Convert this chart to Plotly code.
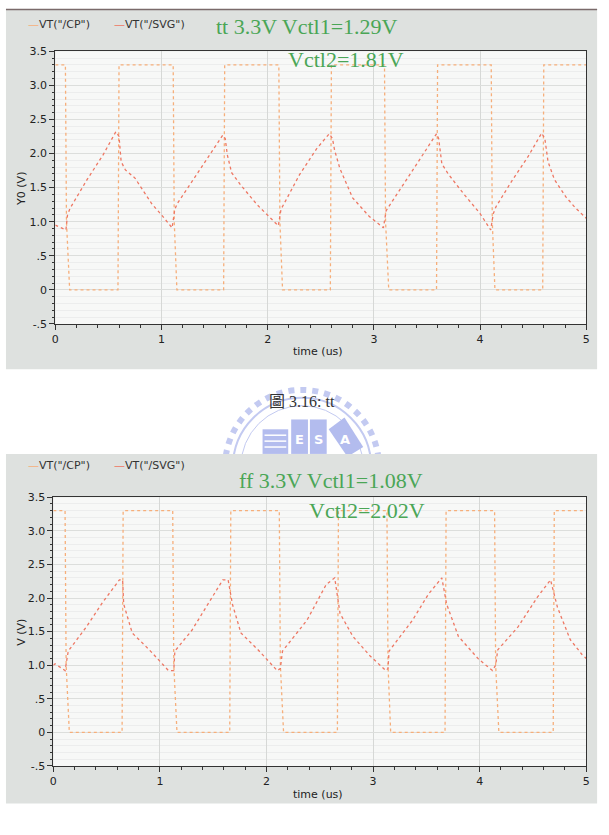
import plotly.graph_objects as go

W, H = 609, 835

# ---------------- data ----------------
# top panel: tt corner
tt_cp_t = [0, 0.095, 0.105, 0.135, 0.59, 0.60, 1.11, 1.12, 1.145, 1.585, 1.595, 2.105, 2.115, 2.14,
           2.59, 2.60, 3.10, 3.11, 3.14, 3.59, 3.60, 4.105, 4.115, 4.14, 4.59, 4.60, 5.0]
tt_cp_v = [3.3, 3.3, 1.0, 0, 0, 3.3, 3.3, 1.0, 0, 0, 3.3, 3.3, 1.0, 0,
           0, 3.3, 3.3, 1.0, 0, 0, 3.3, 3.3, 1.0, 0, 0, 3.3, 3.3]
tt_svg_t = [0.00, 0.05, 0.10, 0.115, 0.14, 0.30, 0.45, 0.57, 0.60, 0.62, 0.66, 0.75, 0.91, 1.00, 1.10,
            1.125, 1.15, 1.30, 1.45, 1.577, 1.60, 1.62, 1.66, 1.745, 1.90, 2.10,
            2.125, 2.15, 2.30, 2.46, 2.58, 2.61, 2.63, 2.68, 2.80, 2.955, 3.09,
            3.115, 3.14, 3.42, 3.59, 3.61, 3.64, 3.70, 3.85, 4.00, 4.10,
            4.125, 4.15, 4.30, 4.45, 4.58, 4.61, 4.64, 4.70, 4.81, 4.90, 5.00]
tt_svg_v = [0.95, 0.92, 0.88, 1.10, 1.20, 1.62, 1.98, 2.32, 2.25, 1.88, 1.76, 1.64, 1.26, 1.10, 0.91,
            1.18, 1.27, 1.62, 1.98, 2.27, 2.22, 1.98, 1.72, 1.54, 1.25, 0.94,
            1.18, 1.25, 1.69, 2.07, 2.29, 2.22, 2.05, 1.78, 1.35, 1.08, 0.91,
            1.16, 1.22, 1.88, 2.29, 2.22, 1.85, 1.70, 1.40, 1.12, 0.88,
            1.12, 1.22, 1.60, 1.95, 2.30, 2.22, 1.88, 1.62, 1.36, 1.20, 1.05]

# bottom panel: ff corner
ff_cp_t = [0, 0.11, 0.12, 0.15, 0.645, 0.655, 1.12, 1.13, 1.16, 1.655, 1.665, 2.12, 2.13, 2.16,
           2.665, 2.675, 3.13, 3.14, 3.165, 3.675, 3.685, 4.14, 4.15, 4.18, 4.69, 4.70, 5.0]
ff_cp_v = [3.3, 3.3, 1.0, 0, 0, 3.3, 3.3, 1.0, 0, 0, 3.3, 3.3, 1.0, 0,
           0, 3.3, 3.3, 1.0, 0, 0, 3.3, 3.3, 1.0, 0, 0, 3.3, 3.3]
ff_svg_t = [0.00, 0.016, 0.11, 0.125, 0.14, 0.31, 0.46, 0.62, 0.65, 0.66, 0.74, 0.90, 1.08, 1.13,
            1.14, 1.30, 1.45, 1.59, 1.64, 1.68, 1.76, 1.92, 2.10, 2.13,
            2.15, 2.38, 2.56, 2.64, 2.69, 2.81, 2.97, 3.12, 3.14,
            3.15, 3.37, 3.52, 3.645, 3.69, 3.80, 3.99, 4.12, 4.15,
            4.17, 4.36, 4.54, 4.665, 4.73, 4.85, 4.96, 5.00]
ff_svg_v = [1.00, 1.02, 0.92, 1.05, 1.21, 1.57, 1.93, 2.27, 2.27, 1.91, 1.48, 1.23, 0.92, 0.92,
            1.21, 1.52, 1.91, 2.27, 2.27, 1.91, 1.48, 1.23, 0.92, 0.95,
            1.21, 1.67, 2.20, 2.30, 1.77, 1.43, 1.14, 0.92, 0.95,
            1.21, 1.67, 2.06, 2.30, 1.91, 1.43, 1.09, 0.92, 1.00,
            1.23, 1.57, 2.01, 2.27, 1.86, 1.38, 1.16, 1.10]

x_ticks = [0, 1, 2, 3, 4, 5]
y_ticks = [-0.5, 0, 0.5, 1.0, 1.5, 2.0, 2.5, 3.0, 3.5]
y_ticktext = ["-.5", "0", ".5", "1.0", "1.5", "2.0", "2.5", "3.0", "3.5"]

CP_COLOR = "#f6ae7a"
SVG_COLOR = "#ee7763"
GREEN = "#4aa656"
PANEL = "#dee1df"
PLOTBG = "#f7f8f7"


def px(x):
    return x / W


def py(y):
    return 1 - y / H


fig = go.Figure()

for t, v, col, xa, ya in [
    (tt_cp_t, tt_cp_v, CP_COLOR, "x", "y"),
    (tt_svg_t, tt_svg_v, SVG_COLOR, "x", "y"),
    (ff_cp_t, ff_cp_v, CP_COLOR, "x2", "y2"),
    (ff_svg_t, ff_svg_v, SVG_COLOR, "x2", "y2"),
]:
    fig.add_trace(go.Scatter(x=t, y=v, mode="lines", xaxis=xa, yaxis=ya,
                             line=dict(color=col, width=1.3, dash="dot"),
                             showlegend=False, hoverinfo="skip"))

# panel geometry
top_dom_x = [px(52), px(590)]
top_dom_y = [py(323), py(46)]
bot_dom_x = [px(50), px(590)]
bot_dom_y = [py(772), py(499)]

tickfont = dict(family="DejaVu Sans", size=11, color="#222")


def xaxis_cfg(dom, anchor):
    return dict(domain=dom, anchor=anchor, range=[0, 5], tickvals=x_ticks,
                ticks="outside", ticklen=5, tickcolor="#333", tickfont=tickfont,
                showgrid=True, gridcolor="#d6d8d6", gridwidth=1,
                showline=True, linecolor="#333", linewidth=1, mirror=True,
                zeroline=False, fixedrange=True,
                minor=dict(dtick=0.2, ticks="outside", ticklen=3, tickcolor="#333", showgrid=False))


def yaxis_cfg(dom, anchor):
    return dict(domain=dom, anchor=anchor, range=[-0.5, 3.5], tickvals=y_ticks,
                ticktext=y_ticktext, ticks="outside", ticklen=5, tickcolor="#333",
                tickfont=tickfont, showgrid=True, gridcolor="#dcdedc", gridwidth=1,
                showline=True, linecolor="#333", linewidth=1, mirror=True,
                zeroline=False, fixedrange=True,
                minor=dict(dtick=0.1, ticks="outside", ticklen=2, tickcolor="#333",
                           showgrid=True, gridcolor="#eceded", gridwidth=1))


shapes = []
# top gray panel
shapes.append(dict(type="rect", xref="paper", yref="paper", x0=px(2), x1=px(601),
                   y0=py(369), y1=py(3), fillcolor=PANEL, line=dict(width=0), layer="below"))
shapes.append(dict(type="line", xref="paper", yref="paper", x0=px(2), x1=px(601),
                   y0=py(3.5), y1=py(3.5), line=dict(color="#7a6a6a", width=1.5), layer="below"))
# watermark ring and blocks
wm_blue = "#c3caf1"
wm_fill = "#b3bcee"
shapes.append(dict(type="circle", xref="paper", yref="paper", x0=px(302 - 78), x1=px(302 + 78),
                   y0=py(468 + 78), y1=py(468 - 78), line=dict(color=wm_blue, width=6, dash="dot"),
                   layer="below"))
shapes.append(dict(type="circle", xref="paper", yref="paper", x0=px(302 - 70), x1=px(302 + 70),
                   y0=py(468 + 70), y1=py(468 - 70), line=dict(color=wm_blue, width=2),
                   layer="below"))
shapes.append(dict(type="circle", xref="paper", yref="paper", x0=px(302 - 62), x1=px(302 + 62),
                   y0=py(468 + 62), y1=py(468 - 62), line=dict(color=wm_blue, width=1),
                   layer="below"))
for (a, b, c, d) in [(262, 430, 288, 455), (291, 420, 308, 455), (310, 420, 327, 455)]:
    shapes.append(dict(type="rect", xref="paper", yref="paper", x0=px(a), x1=px(c),
                       y0=py(d), y1=py(b), fillcolor=wm_fill, line=dict(width=0), layer="below"))
shapes.append(dict(type="path", xref="paper", yref="paper",
                   path="M {} {} L {} {} L {} {} L {} {} Z".format(px(329), py(430), px(345), py(418),
                                                                  px(364), py(448), px(348), py(458)),
                   fillcolor=wm_fill, line=dict(width=0), layer="below"))
for yy in (436, 442, 448):
    shapes.append(dict(type="line", xref="paper", yref="paper", x0=px(264), x1=px(286),
                       y0=py(yy), y1=py(yy), line=dict(color="#ffffff", width=1.5), layer="below"))
# bottom gray panel
shapes.append(dict(type="rect", xref="paper", yref="paper", x0=px(2), x1=px(601),
                   y0=py(810), y1=py(455), fillcolor=PANEL, line=dict(width=0), layer="below"))
# plot-area backgrounds
for dx, dy in [(top_dom_x, top_dom_y), (bot_dom_x, bot_dom_y)]:
    shapes.append(dict(type="rect", xref="paper", yref="paper", x0=dx[0], x1=dx[1],
                       y0=dy[0], y1=dy[1], fillcolor=PLOTBG, line=dict(width=0), layer="below"))

ann = []


def add_text(text, x, y, size, color, family="DejaVu Sans", xanchor="center", angle=0):
    ann.append(dict(text=text, x=px(x), y=py(y), xref="paper", yref="paper", showarrow=False,
                    xanchor=xanchor, yanchor="middle", textangle=angle,
                    font=dict(family=family, size=size, color=color)))


for ly in (19, 467):
    add_text('<span style="color:%s">—</span>VT("/CP")' % CP_COLOR, 22, ly, 11, "#333", xanchor="left")
    add_text('<span style="color:%s">—</span>VT("/SVG")' % SVG_COLOR, 109, ly, 11, "#333", xanchor="left")

add_text("tt 3.3V Vctl1=1.29V", 307, 21, 22, GREEN, family="Liberation Serif")
add_text("Vctl2=1.81V", 347, 54, 22, GREEN, family="Liberation Serif")
add_text("ff 3.3V Vctl1=1.08V", 331, 482, 22, GREEN, family="Liberation Serif")
add_text("Vctl2=2.02V", 368, 512, 22, GREEN, family="Liberation Serif")

add_text("time (us)", 318, 351, 11, "#222")
add_text("time (us)", 318, 801, 11, "#222")
add_text("Y0 (V)", 17, 186, 11, "#222", angle=-90)
add_text("V (V)", 17, 636, 11, "#222", angle=-90)

add_text("圖 3.16: tt", 302, 402, 16, "#333", family="Liberation Serif, Noto Sans CJK TC")
for ch, x in [("E", 299.5), ("S", 318.5), ("A", 346)]:
    add_text("<b>%s</b>" % ch, x, 440, 13, "#ffffff")

fig.update_layout(
    width=W, height=H, margin=dict(l=0, r=0, t=0, b=0),
    paper_bgcolor="#ffffff", plot_bgcolor="rgba(0,0,0,0)",
    xaxis=xaxis_cfg(top_dom_x, "y"), yaxis=yaxis_cfg(top_dom_y, "x"),
    xaxis2=xaxis_cfg(bot_dom_x, "y2"), yaxis2=yaxis_cfg(bot_dom_y, "x2"),
    shapes=shapes, annotations=ann, showlegend=False, hovermode=False,
)

fig.write_html("out.html")
